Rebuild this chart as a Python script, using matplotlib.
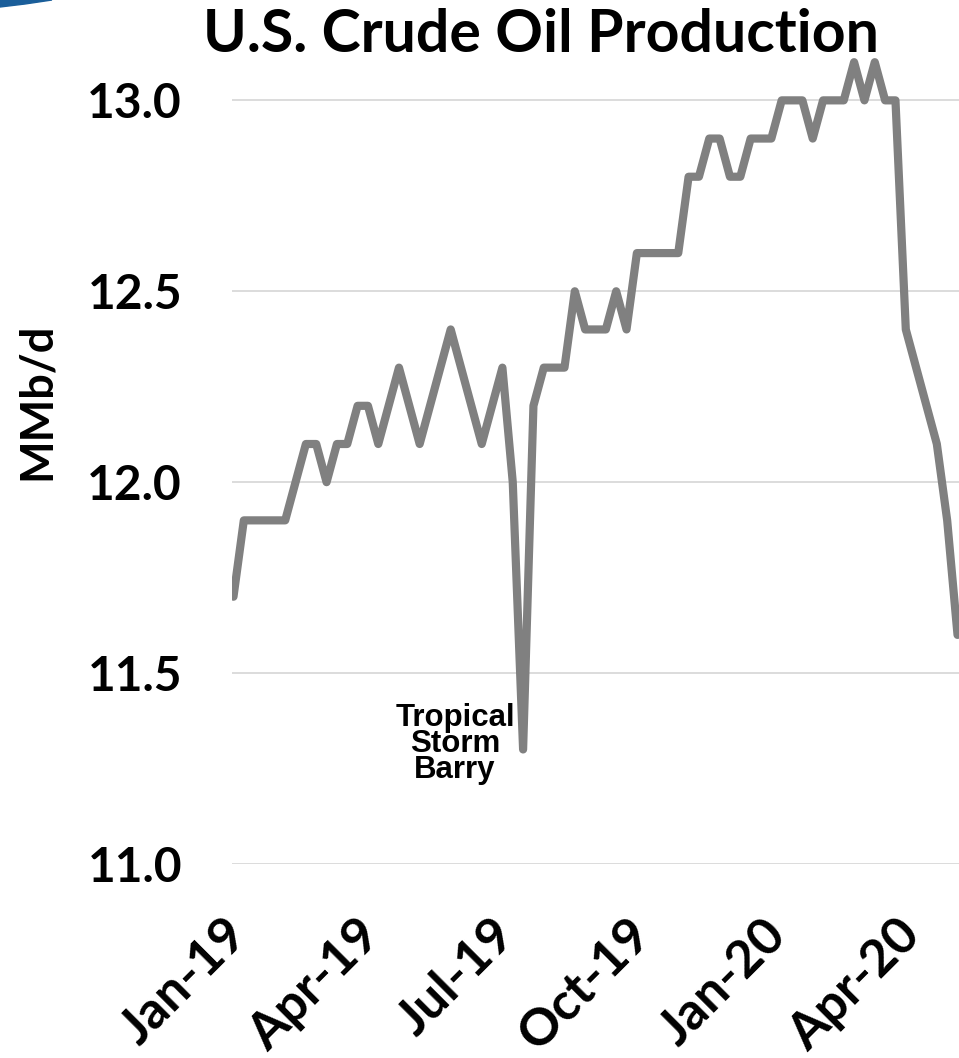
import matplotlib
matplotlib.use('Agg')
import matplotlib.pyplot as plt
import matplotlib.transforms as mtrans
from matplotlib.patches import Polygon
import datetime as dt

# weekly U.S. crude oil production (MMb/d), Jan 4 2019 - May 8 2020
start = dt.date(2019, 1, 4)
weeks = [start + dt.timedelta(days=7 * i) for i in range(71)]
production = [
    11.7, 11.9, 11.9, 11.9, 11.9, 11.9, 12.0, 12.1, 12.1, 12.0,
    12.1, 12.1, 12.2, 12.2, 12.1, 12.2, 12.3, 12.2, 12.1, 12.2,
    12.3, 12.4, 12.3, 12.2, 12.1, 12.2, 12.3, 12.0, 11.3, 12.2,
    12.3, 12.3, 12.3, 12.5, 12.4, 12.4, 12.4, 12.5, 12.4, 12.6,
    12.6, 12.6, 12.6, 12.6, 12.8, 12.8, 12.9, 12.9, 12.8, 12.8,
    12.9, 12.9, 12.9, 13.0, 13.0, 13.0, 12.9, 13.0, 13.0, 13.0,
    13.1, 13.0, 13.1, 13.0, 13.0, 12.4, 12.3, 12.2, 12.1, 11.9,
    11.6,
]
tick_dates = [dt.date(2019, 1, 4), dt.date(2019, 4, 4), dt.date(2019, 7, 4),
              dt.date(2019, 10, 4), dt.date(2020, 1, 4), dt.date(2020, 4, 4)]
tick_labels = ['Jan-19', 'Apr-19', 'Jul-19', 'Oct-19', 'Jan-20', 'Apr-20']
y_ticks = [11.0, 11.5, 12.0, 12.5, 13.0]

W, H = 959, 1058
fig = plt.figure(figsize=(W / 100, H / 100), dpi=100)
ax = fig.add_axes([232 / W, 1 - 864 / H, 727 / W, (864 - 24) / H])

ax.plot(weeks, production, color='#808080', lw=5.9,
        solid_capstyle='round', solid_joinstyle='round', zorder=3)

ax.set_xlim(start - dt.timedelta(days=1.36), start + dt.timedelta(days=491.3))
ax.set_ylim(11.0, 13.2)
ax.set_yticks(y_ticks)
ax.set_yticklabels([f'{v:.1f}' for v in y_ticks])
ax.set_xticks(tick_dates)
ax.set_xticklabels(tick_labels)

for s in ax.spines.values():
    s.set_visible(False)
ax.grid(axis='y', color='#d9d9d9', lw=1.3)
ax.set_axisbelow(True)
ax.tick_params(axis='both', length=0)
ax.tick_params(axis='y', pad=36)
ax.tick_params(axis='x', pad=33.5)

for lbl in ax.get_yticklabels():
    lbl.set_fontfamily('Lato')
    lbl.set_fontweight('bold')
    lbl.set_fontsize(34.5)

offset = mtrans.ScaledTranslation(-11 / 100, 0, fig.dpi_scale_trans)
for lbl in ax.get_xticklabels():
    lbl.set_fontfamily('Lato')
    lbl.set_fontweight('bold')
    lbl.set_fontsize(37)
    lbl.set_rotation(45)
    lbl.set_ha('right')
    lbl.set_va('top')
    lbl.set_rotation_mode('anchor')
    lbl.set_transform(lbl.get_transform() + offset)

fig.text(37 / W, 1 - 401 / H, 'MMb/d', rotation=90, ha='center', va='center',
         fontfamily='Lato', fontweight='bold', fontsize=32.5)

fig.text(541 / W, 1 - 52 / H, 'U.S. Crude Oil Production', ha='center', va='baseline',
         fontfamily='Lato', fontweight='bold', fontsize=42.5)

ax.text(dt.date(2019, 6, 3), 11.315, 'Tropical\nStorm\nBarry', ha='center', va='center',
        fontfamily='Liberation Sans', fontweight='bold', fontsize=22.5, linespacing=0.83)

# blue swoosh in the corner (slide decoration)
fig.patches.append(Polygon([(0, 1), (52 / W, 1), (25 / W, 1 - 4 / H), (0, 1 - 7 / H)],
                           closed=True, transform=fig.transFigure, color='#1a5e9a'))

fig.savefig('out.png', dpi=100)
